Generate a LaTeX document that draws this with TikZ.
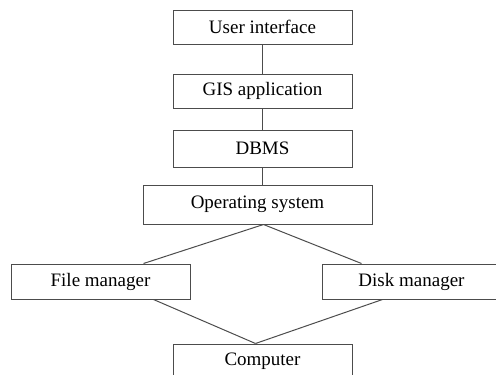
\documentclass[tikz,border=0pt]{standalone}
\usepackage{fontspec}
\setmainfont{Liberation Serif}
\usetikzlibrary{positioning}

\tikzset{
  layer/.style={draw=black!70, line width=1pt, fill=white, minimum width=179pt,
    minimum height=35pt, inner sep=0pt, font=\fontsize{19}{22}\selectfont},
  link/.style={draw=black!70, line width=1pt}
}

\begin{document}
\begin{tikzpicture}[x=1pt, y=-1pt]

% Manually size the picture
\clip (0, 0) rectangle (496, 375);

% Software stack
\node[layer, minimum height=34pt] (ui) at (262.5, 27) {User interface};
\node[layer, minimum height=34pt] (gis) at (262.5, 91) {GIS application};
\node[layer, minimum height=37pt] (dbms) at (262.5, 148.5) {DBMS};
\node[layer, minimum width=229pt, minimum height=39pt] (os) at (257.5, 204.5) {Operating system};

% Managers
\node[layer] (fm) at (100.5, 281.5) {File manager};
\node[layer] (dm) at (411.5, 281.5) {Disk manager};

% Hardware
\node[layer] (pc) at (262.5, 361.5) {Computer};

% Stack links
\draw[link] (ui) -- (gis);
\draw[link] (gis) -- (dbms);
\draw[link] (dbms.south) -- (dbms.south |- os.north);

% Fork to the managers
\draw[link] ([xshift=6pt]os.south) -- ([xshift=43pt]fm.north);
\draw[link] ([xshift=6pt]os.south) -- ([xshift=-50pt]dm.north);

% Join at the computer
\draw[link] ([xshift=53pt]fm.south) -- ([xshift=-7pt]pc.north);
\draw[link] ([xshift=-29pt]dm.south) -- ([xshift=-7pt]pc.north);

\end{tikzpicture}
\end{document}
